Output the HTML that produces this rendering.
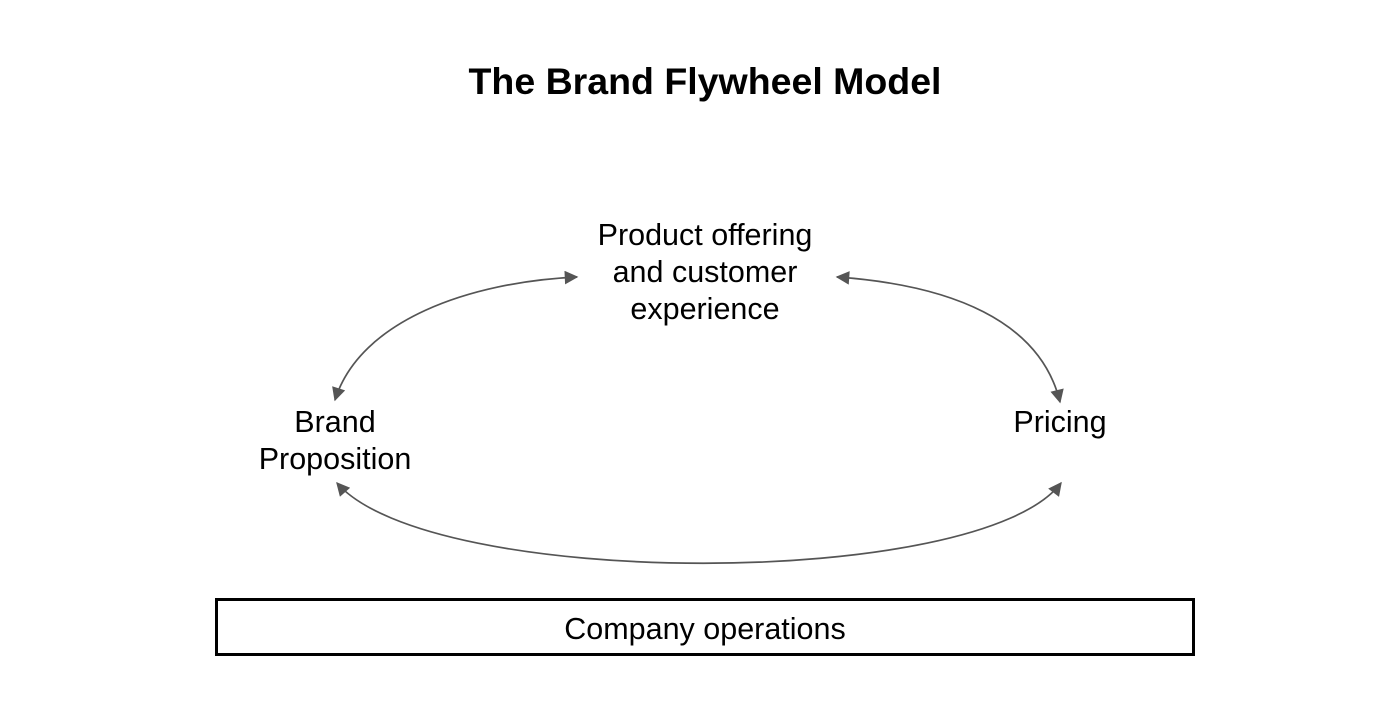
<!DOCTYPE html>
<html><head><meta charset="utf-8"><style>
html,body{margin:0;padding:0;background:#fff;}
svg{display:block;}
text{font-family:"Liberation Sans",Arial,sans-serif;fill:#000;}
</style></head><body>
<svg width="1400" height="707" viewBox="0 0 1400 707" xmlns="http://www.w3.org/2000/svg">
<defs>
<marker id="a" viewBox="0 0 10 10" refX="9" refY="5" markerWidth="9" markerHeight="8" orient="auto-start-reverse" markerUnits="strokeWidth">
<path d="M0,0 L10,5 L0,10 z" fill="#555"/>
</marker>
</defs>
<text x="705" y="94" font-size="37.5" font-weight="bold" text-anchor="middle">The Brand Flywheel Model</text>
<g font-size="30.5" text-anchor="middle">
<text x="705" y="245">Product offering</text>
<text x="705" y="282">and customer</text>
<text x="705" y="319">experience</text>
<text x="335" y="432">Brand</text>
<text x="335" y="469">Proposition</text>
<text x="1060" y="432">Pricing</text>
<text x="705" y="639">Company operations</text>
</g>
<g fill="none" stroke="#555" stroke-width="1.7">
<path d="M335,400 C 360,320 470,282 577,277" marker-start="url(#a)" marker-end="url(#a)"/>
<path d="M837,277 C 950,285 1040,320 1060,402" marker-start="url(#a)" marker-end="url(#a)"/>
<path d="M337,483 C 430,590 980,590 1061,483" marker-start="url(#a)" marker-end="url(#a)"/>
</g>
<rect x="216.5" y="599.5" width="977" height="55" fill="none" stroke="#000" stroke-width="3"/>
</svg>
</body></html>
